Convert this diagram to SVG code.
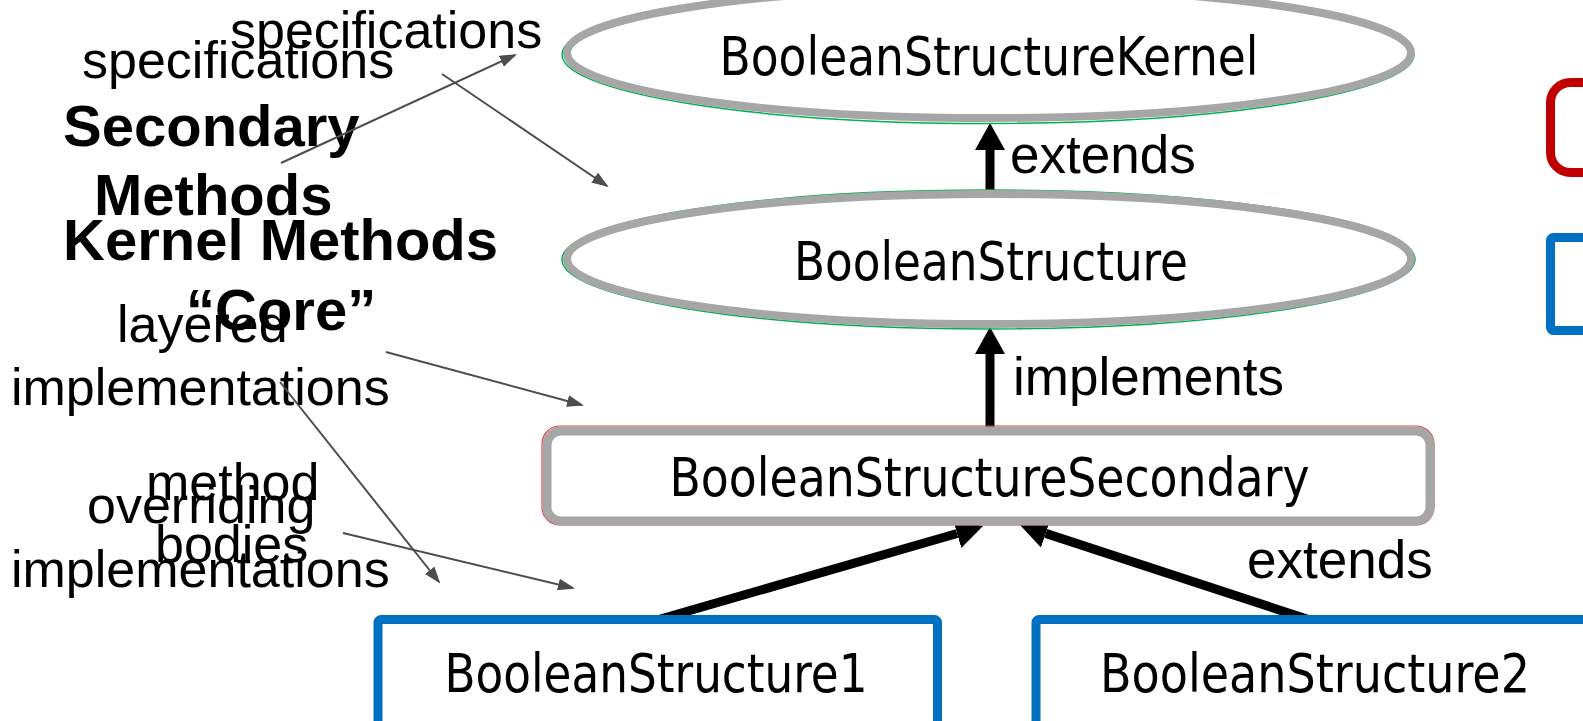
<svg xmlns="http://www.w3.org/2000/svg" width="1583" height="721" viewBox="0 0 1583 721">
<defs>
<style>
.node-text{font-family:"DejaVu Sans Condensed","DejaVu Sans",sans-serif;font-stretch:condensed;font-size:54px;fill:#000;text-anchor:middle}
.lbl{font-family:"Liberation Sans",Arial,sans-serif;font-size:53px;fill:#000}
.side{font-family:"Liberation Sans",Arial,sans-serif;font-size:52px;fill:#000}
.sideb{font-family:"Liberation Sans",Arial,sans-serif;font-size:58px;font-weight:bold;fill:#000}
.oval{fill:#fff;stroke:#A6A6A6;stroke-width:8}
.green{fill:none;stroke:#00B050;stroke-width:1.5}
.thick{stroke:#000;stroke-width:9;fill:none}
.thin{stroke:#4D4D4D;stroke-width:2;fill:none}
.blue{fill:#fff;stroke:#0070C0;stroke-width:9}
</style>
<marker id="big" viewBox="0 0 27 30" refX="0" refY="15" markerWidth="27" markerHeight="30" markerUnits="userSpaceOnUse" orient="auto">
<path d="M0,0 L27,15 L0,30 z" fill="#000"/>
</marker>
<marker id="small" viewBox="0 0 17 12" refX="15" refY="6" markerWidth="17" markerHeight="12" markerUnits="userSpaceOnUse" orient="auto">
<path d="M0,0 L17,6 L0,12 z" fill="#4D4D4D"/>
</marker>
</defs>
<rect width="1583" height="721" fill="#fff"/>

<g id="connectors">
<line class="thick" x1="990" y1="192" x2="990" y2="150" marker-end="url(#big)"/>
<line class="thick" x1="990" y1="429" x2="990" y2="354" marker-end="url(#big)"/>
<line class="thick" x1="657" y1="620" x2="957.1" y2="533.5" marker-end="url(#big)"/>
<line class="thick" x1="1310" y1="620" x2="1045.7" y2="533.4" marker-end="url(#big)"/>
</g>

<g id="kernel">
<ellipse class="green" cx="988" cy="54.5" rx="426" ry="69"/>
<ellipse class="oval" cx="989" cy="53" rx="422" ry="65"/>
<text class="node-text" x="989" y="75" textLength="539" lengthAdjust="spacingAndGlyphs">BooleanStructureKernel</text>
</g>

<g id="booleanstructure">
<ellipse class="green" cx="988.5" cy="259.5" rx="426.5" ry="69.5"/>
<ellipse class="oval" cx="989" cy="259" rx="422" ry="65"/>
<text class="node-text" x="991" y="280" textLength="394" lengthAdjust="spacingAndGlyphs">BooleanStructure</text>
</g>

<g id="secondary">
<rect x="542" y="426" width="892" height="99" rx="18" fill="none" stroke="#E04040" stroke-width="1.2"/>
<rect x="547" y="431" width="883" height="90" rx="14" fill="#fff" stroke="#A6A6A6" stroke-width="9"/>
<text class="node-text" x="989.5" y="496" textLength="640" lengthAdjust="spacingAndGlyphs">BooleanStructureSecondary</text>
</g>

<g id="bs1">
<rect class="blue" x="378" y="619.5" width="559.5" height="130" rx="3"/>
<text class="node-text" x="656" y="692" textLength="423" lengthAdjust="spacingAndGlyphs">BooleanStructure1</text>
</g>

<g id="bs2">
<rect class="blue" x="1036" y="619.5" width="600" height="130" rx="3"/>
<text class="node-text" x="1315" y="692" textLength="430" lengthAdjust="spacingAndGlyphs">BooleanStructure2</text>
</g>

<g id="legend-red">
<rect x="1550.5" y="82.5" width="100" height="90" rx="20" fill="#fff" stroke="#C00000" stroke-width="9"/>
</g>
<g id="legend-blue">
<rect x="1550.5" y="237.5" width="100" height="93" rx="3" fill="#fff" stroke="#0070C0" stroke-width="9"/>
</g>

<g id="edge-labels">
<text class="lbl" x="1010" y="173">extends</text>
<text class="lbl" x="1013" y="395">implements</text>
<text class="lbl" x="1247" y="578">extends</text>
</g>

<g id="annotations">
<text class="side" x="230" y="48">specifications</text>
<text class="side" x="82" y="78">specifications</text>
<text class="sideb" x="63" y="146">Secondary</text>
<text class="sideb" x="94" y="215">Methods</text>
<text class="sideb" x="63" y="260">Kernel Methods</text>
<text class="sideb" x="186" y="330">“Core”</text>
<text class="side" x="117" y="342">layered</text>
<text class="side" x="11" y="405">implementations</text>
<text class="side" x="146" y="500">method</text>
<text class="side" x="87" y="523">overriding</text>
<text class="side" x="155" y="562">bodies</text>
<text class="side" x="11" y="587">implementations</text>
</g>

<g id="annotation-arrows">
<line class="thin" x1="281" y1="163" x2="515" y2="55" marker-end="url(#small)"/>
<line class="thin" x1="442" y1="74" x2="607" y2="186" marker-end="url(#small)"/>
<line class="thin" x1="386" y1="352" x2="582" y2="405" marker-end="url(#small)"/>
<line class="thin" x1="280" y1="382" x2="439" y2="582" marker-end="url(#small)"/>
<line class="thin" x1="343" y1="533" x2="573" y2="588" marker-end="url(#small)"/>
</g>
</svg>
